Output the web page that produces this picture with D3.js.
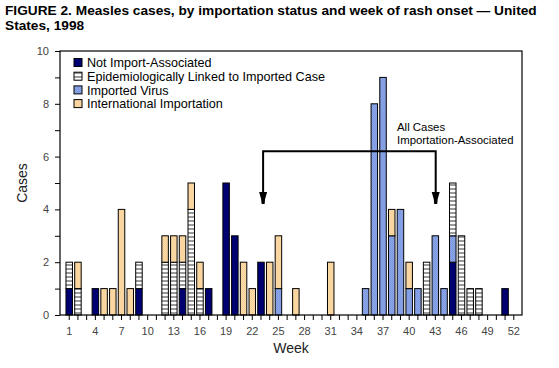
<!DOCTYPE html>
<html><head><meta charset="utf-8">
<script src="https://cdn.jsdelivr.net/npm/d3@7"></script>
<style>
body{margin:0;background:#fff;}
svg{display:block;font-family:"Liberation Sans",Arial,Helvetica,sans-serif;}
</style></head><body>
<svg id="c" width="559" height="368"></svg>
<script>
// Data
const weeks = d3.range(1, 53);
const seriesNames = ["Not Import-Associated", "Imported Virus", "Epidemiologically Linked to Imported Case", "International Importation"];
const legendOrder = ["Not Import-Associated", "Epidemiologically Linked to Imported Case", "Imported Virus", "International Importation"];
// values per week (index 0 = week 1)
const notImport = [1,0,0,1,0,0,0,0,1,0,0,0,0,1,0,0,1,0,5,3,0,0,2,0,0,0,0,0,0,0,0,0,0,0,0,0,0,0,0,0,0,0,0,0,2,0,0,0,0,0,1,0];
const importedVirus = [0,0,0,0,0,0,0,0,0,0,0,0,0,0,0,0,0,0,0,0,0,0,0,0,1,0,0,0,0,0,0,0,0,0,1,8,9,3,4,1,1,0,3,1,1,0,0,0,0,0,0,0];
const epiLinked = [1,1,0,0,0,0,0,0,1,0,0,2,2,1,4,1,0,0,0,0,0,0,0,0,0,0,0,0,0,0,0,0,0,0,0,0,0,0,0,0,0,2,0,0,2,3,1,1,0,0,0,0];
const intlImport = [0,1,0,0,1,1,4,1,0,0,0,1,1,1,1,1,0,0,0,0,2,1,0,2,2,0,1,0,0,0,2,0,0,0,0,0,0,1,0,1,0,0,0,0,0,0,0,0,0,0,0,0];
const yTicks = [0,2,4,6,8,10];
const xTickLabels = [1,4,7,10,13,16,19,22,25,28,31,34,37,40,43,46,49,52];
const annotationText = ["All Cases","Importation-Associated"];
const annotationWeeks = [23.3, 43.1];
const annotationLevels = [6.2, 4.2];

const svg = d3.select("#c");
const defs = svg.append("defs");
// stripe pattern
const pat = defs.append("pattern").attr("id","stripe").attr("patternUnits","userSpaceOnUse")
  .attr("width",4).attr("height",4);
pat.append("rect").attr("width",4).attr("height",4).attr("fill","#fff");
pat.append("rect").attr("y",0).attr("width",4).attr("height",2).attr("fill","#9a9a9a");
// dither patterns
function dither(id, c1, c2){
  const p = defs.append("pattern").attr("id",id).attr("patternUnits","userSpaceOnUse").attr("width",2).attr("height",2);
  p.append("rect").attr("width",2).attr("height",2).attr("fill",c1);
  p.append("rect").attr("width",1).attr("height",1).attr("fill",c2);
  p.append("rect").attr("x",1).attr("y",1).attr("width",1).attr("height",1).attr("fill",c2);
}
dither("orange","#fcdba6","#f6d09a");
dither("blue","#8ca6e8","#7c98e0");
dither("navy","#000078","#00006a");

const fills = {
  "Not Import-Associated":"url(#navy)",
  "Imported Virus":"url(#blue)",
  "Epidemiologically Linked to Imported Case":"url(#stripe)",
  "International Importation":"url(#orange)"
};

const L=60, R=522, T=51, B=315;
const x = d3.scaleLinear().domain([0,53]).range([L,R]);
const y = d3.scaleLinear().domain([0,10]).range([B,T]);

// title
const title = svg.append("text").attr("font-weight","bold").attr("font-size",13.7).attr("fill","#000");
title.append("tspan").attr("x",5).attr("y",15).text("FIGURE 2. Measles cases, by importation status and week of rash onset \u2014 United");
title.append("tspan").attr("x",5).attr("y",30).text("States, 1998");

// data table
const table = weeks.map((w,i)=>({week:w,
  "Not Import-Associated":notImport[i],
  "Imported Virus":importedVirus[i],
  "Epidemiologically Linked to Imported Case":epiLinked[i],
  "International Importation":intlImport[i]}));
const stacked = d3.stack().keys(seriesNames)(table);
const bw = 6.5;
stacked.forEach(s=>{
  svg.append("g").selectAll("rect").data(s.filter(d=>d[1]>d[0])).join("rect")
    .attr("x",d=>x(d.data.week)-bw/2+0.5)
    .attr("y",d=>y(d[1]))
    .attr("width",bw)
    .attr("height",d=>y(d[0])-y(d[1]))
    .attr("fill",fills[s.key])
    .attr("stroke","#000").attr("stroke-width",1);
});

// frame
svg.append("rect").attr("x",L).attr("y",T).attr("width",R-L).attr("height",B-T)
  .attr("fill","none").attr("stroke","#000").attr("stroke-width",1.2);

// y axis
const yAxis = d3.axisLeft(y).tickValues(d3.range(0,11,1)).tickSize(5)
  .tickFormat(d=>yTicks.includes(d)?d:"");
const gy = svg.append("g").attr("transform",`translate(${L},0)`).call(yAxis);
gy.select(".domain").remove();
gy.selectAll("text").attr("font-size",11).attr("fill","#444").attr("font-family","Liberation Sans, Arial, sans-serif").attr("dx",-3);
gy.selectAll("line").attr("stroke","#000");

// x axis
const xAxis = d3.axisBottom(x).tickValues(weeks).tickSize(5)
  .tickFormat(d=>xTickLabels.includes(d)?d:"");
const gx = svg.append("g").attr("transform",`translate(0,${B})`).call(xAxis);
gx.select(".domain").remove();
gx.selectAll("text").attr("font-size",11).attr("fill","#444").attr("font-family","Liberation Sans, Arial, sans-serif").attr("dy","1.1em");
gx.selectAll("line").attr("stroke","#000");

// axis titles
svg.append("text").attr("transform",`translate(27,${(T+B)/2}) rotate(-90)`).attr("text-anchor","middle")
  .attr("font-size",14).attr("fill","#222").text("Cases");
svg.append("text").attr("x",(L+R)/2).attr("y",353).attr("text-anchor","middle")
  .attr("font-size",14).attr("fill","#222").text("Week");

// legend
const lg = svg.append("g");
legendOrder.forEach((k,i)=>{
  const yy = 58.5 + i*13.7;
  lg.append("rect").attr("x",74).attr("y",yy).attr("width",8).attr("height",8)
    .attr("fill",fills[k]).attr("stroke","#000");
  lg.append("text").attr("x",87).attr("y",yy+8.8).attr("font-size",12.6).attr("fill","#000").text(k);
});

// annotation
const ay = y(annotationLevels[0]), ab = y(annotationLevels[1]);
const ax1 = x(annotationWeeks[0]), ax2 = x(annotationWeeks[1]);
svg.append("path").attr("d",`M${ax1},${ab-10}V${ay}H${ax2}V${ab-10}`).attr("fill","none").attr("stroke","#000").attr("stroke-width",2);
[ax1,ax2].forEach(xx=>{
  svg.append("path").attr("d",`M${xx-4},${ab-12}L${xx+4},${ab-12}L${xx+2},${ab-5}L${xx+1.5},${ab}L${xx-1.5},${ab}L${xx-2},${ab-5}Z`).attr("fill","#000");
});
const at = svg.append("text").attr("font-size",11.4).attr("fill","#000");
annotationText.forEach((t,i)=>at.append("tspan").attr("x",397).attr("y",131+i*13).text(t));
</script>
</body></html>
